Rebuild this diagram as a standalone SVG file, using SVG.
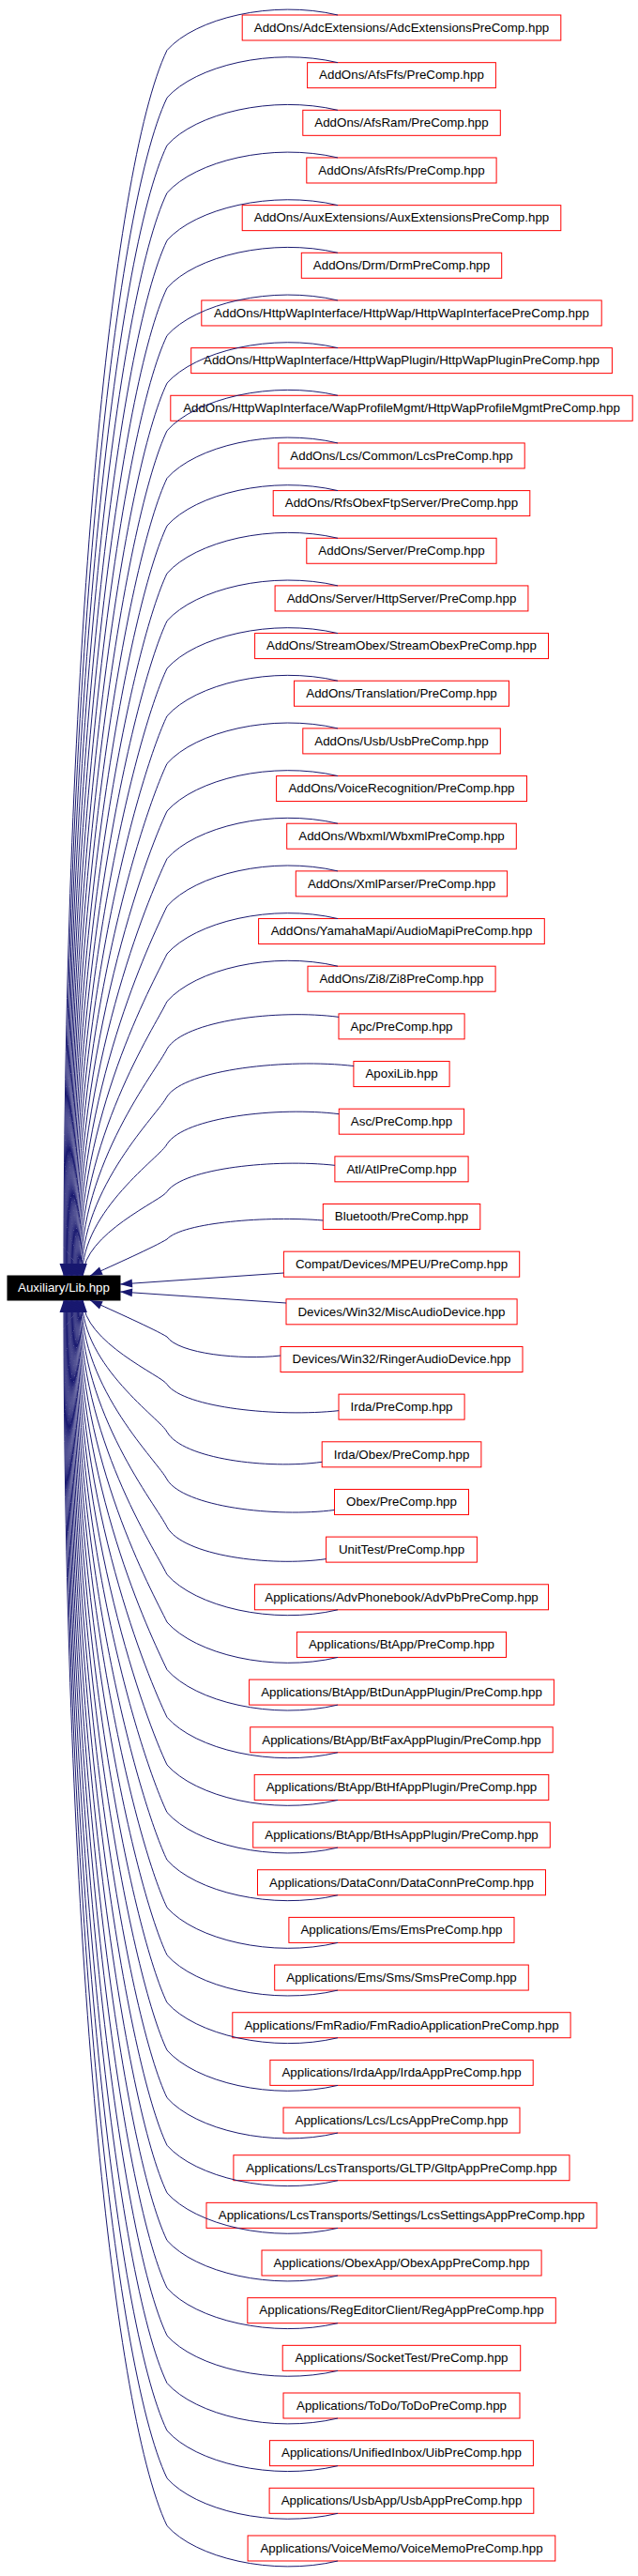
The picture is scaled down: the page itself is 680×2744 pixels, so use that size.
<svg xmlns="http://www.w3.org/2000/svg" width="680" height="2744" viewBox="0 0 680 2744">
<style>
.n rect{fill:#fff;stroke:#f00;stroke-width:1}
.t{font-family:"Liberation Sans",Arial,Helvetica,sans-serif;font-size:13.35px;text-anchor:middle;fill:#000}
.e{fill:none;stroke:#191970;stroke-width:1;marker-end:url(#ah)}
</style>
<defs>
<marker id="ah" markerUnits="userSpaceOnUse" markerWidth="13" markerHeight="9" refX="13" refY="4.5" orient="auto" viewBox="0 0 13 9" overflow="visible"><path d="M0,0 L13,4.5 L0,9 z" fill="#191970"/></marker>
</defs>
<rect width="680" height="2744" fill="#fff"/>
<g id="nodes">
<g id="lib"><rect x="8" y="1359" width="120" height="26" fill="#000" stroke="#000"/><text class="t" x="68" y="1376.3" style="fill:#fff">Auxiliary/Lib.hpp</text></g>
<g id="n0" class="n"><rect x="258.2" y="16" width="339.6" height="27"/><text class="t" x="428" y="33.8">AddOns/AdcExtensions/AdcExtensionsPreComp.hpp</text></g>
<g id="n1" class="n"><rect x="327.6" y="66.66" width="200.8" height="27"/><text class="t" x="428" y="84.46">AddOns/AfsFfs/PreComp.hpp</text></g>
<g id="n2" class="n"><rect x="322.8" y="117.32" width="210.5" height="27"/><text class="t" x="428" y="135.12">AddOns/AfsRam/PreComp.hpp</text></g>
<g id="n3" class="n"><rect x="326.8" y="167.98" width="202.3" height="27"/><text class="t" x="428" y="185.78">AddOns/AfsRfs/PreComp.hpp</text></g>
<g id="n4" class="n"><rect x="258.2" y="218.64" width="339.6" height="27"/><text class="t" x="428" y="236.44">AddOns/AuxExtensions/AuxExtensionsPreComp.hpp</text></g>
<g id="n5" class="n"><rect x="321.3" y="269.3" width="213.4" height="27"/><text class="t" x="428" y="287.1">AddOns/Drm/DrmPreComp.hpp</text></g>
<g id="n6" class="n"><rect x="214.8" y="319.96" width="426.4" height="27"/><text class="t" x="428" y="337.76">AddOns/HttpWapInterface/HttpWap/HttpWapInterfacePreComp.hpp</text></g>
<g id="n7" class="n"><rect x="203.7" y="370.62" width="448.7" height="27"/><text class="t" x="428" y="388.42">AddOns/HttpWapInterface/HttpWapPlugin/HttpWapPluginPreComp.hpp</text></g>
<g id="n8" class="n"><rect x="181.8" y="421.28" width="492.4" height="27"/><text class="t" x="428" y="439.08">AddOns/HttpWapInterface/WapProfileMgmt/HttpWapProfileMgmtPreComp.hpp</text></g>
<g id="n9" class="n"><rect x="296.8" y="471.94" width="262.4" height="27"/><text class="t" x="428" y="489.74">AddOns/Lcs/Common/LcsPreComp.hpp</text></g>
<g id="n10" class="n"><rect x="291.2" y="522.6" width="273.6" height="27"/><text class="t" x="428" y="540.4">AddOns/RfsObexFtpServer/PreComp.hpp</text></g>
<g id="n11" class="n"><rect x="326.8" y="573.26" width="202.3" height="27"/><text class="t" x="428" y="591.06">AddOns/Server/PreComp.hpp</text></g>
<g id="n12" class="n"><rect x="293.1" y="623.92" width="269.8" height="27"/><text class="t" x="428" y="641.72">AddOns/Server/HttpServer/PreComp.hpp</text></g>
<g id="n13" class="n"><rect x="271.6" y="674.58" width="312.9" height="27"/><text class="t" x="428" y="692.38">AddOns/StreamObex/StreamObexPreComp.hpp</text></g>
<g id="n14" class="n"><rect x="313.5" y="725.24" width="229" height="27"/><text class="t" x="428" y="743.04">AddOns/Translation/PreComp.hpp</text></g>
<g id="n15" class="n"><rect x="322.8" y="775.9" width="210.5" height="27"/><text class="t" x="428" y="793.7">AddOns/Usb/UsbPreComp.hpp</text></g>
<g id="n16" class="n"><rect x="294.6" y="826.56" width="266.9" height="27"/><text class="t" x="428" y="844.36">AddOns/VoiceRecognition/PreComp.hpp</text></g>
<g id="n17" class="n"><rect x="305.7" y="877.22" width="244.6" height="27"/><text class="t" x="428" y="895.02">AddOns/Wbxml/WbxmlPreComp.hpp</text></g>
<g id="n18" class="n"><rect x="315.3" y="927.88" width="225.3" height="27"/><text class="t" x="428" y="945.68">AddOns/XmlParser/PreComp.hpp</text></g>
<g id="n19" class="n"><rect x="275.6" y="978.54" width="304.7" height="27"/><text class="t" x="428" y="996.34">AddOns/YamahaMapi/AudioMapiPreComp.hpp</text></g>
<g id="n20" class="n"><rect x="328" y="1029.2" width="200.1" height="27"/><text class="t" x="428" y="1047">AddOns/Zi8/Zi8PreComp.hpp</text></g>
<g id="n21" class="n"><rect x="361" y="1079.86" width="134.1" height="27"/><text class="t" x="428" y="1097.66">Apc/PreComp.hpp</text></g>
<g id="n22" class="n"><rect x="376.9" y="1130.52" width="102.2" height="27"/><text class="t" x="428" y="1148.32">ApoxiLib.hpp</text></g>
<g id="n23" class="n"><rect x="361.3" y="1181.18" width="133.3" height="27"/><text class="t" x="428" y="1198.98">Asc/PreComp.hpp</text></g>
<g id="n24" class="n"><rect x="356.9" y="1231.84" width="142.2" height="27"/><text class="t" x="428" y="1249.64">Atl/AtlPreComp.hpp</text></g>
<g id="n25" class="n"><rect x="344.3" y="1282.5" width="167.5" height="27"/><text class="t" x="428" y="1300.3">Bluetooth/PreComp.hpp</text></g>
<g id="n26" class="n"><rect x="302.4" y="1333.16" width="251.3" height="27"/><text class="t" x="428" y="1350.96">Compat/Devices/MPEU/PreComp.hpp</text></g>
<g id="n27" class="n"><rect x="305" y="1383.82" width="246.1" height="27"/><text class="t" x="428" y="1401.62">Devices/Win32/MiscAudioDevice.hpp</text></g>
<g id="n28" class="n"><rect x="299" y="1434.48" width="258" height="27"/><text class="t" x="428" y="1452.28">Devices/Win32/RingerAudioDevice.hpp</text></g>
<g id="n29" class="n"><rect x="361" y="1485.14" width="134.1" height="27"/><text class="t" x="428" y="1502.94">Irda/PreComp.hpp</text></g>
<g id="n30" class="n"><rect x="343.2" y="1535.8" width="169.7" height="27"/><text class="t" x="428" y="1553.6">Irda/Obex/PreComp.hpp</text></g>
<g id="n31" class="n"><rect x="356.5" y="1586.46" width="143" height="27"/><text class="t" x="428" y="1604.26">Obex/PreComp.hpp</text></g>
<g id="n32" class="n"><rect x="347.6" y="1637.12" width="160.8" height="27"/><text class="t" x="428" y="1654.92">UnitTest/PreComp.hpp</text></g>
<g id="n33" class="n"><rect x="271.4" y="1687.78" width="313.1" height="27"/><text class="t" x="428" y="1705.58">Applications/AdvPhonebook/AdvPbPreComp.hpp</text></g>
<g id="n34" class="n"><rect x="316.4" y="1738.44" width="223.1" height="27"/><text class="t" x="428" y="1756.24">Applications/BtApp/PreComp.hpp</text></g>
<g id="n35" class="n"><rect x="265.6" y="1789.1" width="324.8" height="27"/><text class="t" x="428" y="1806.9">Applications/BtApp/BtDunAppPlugin/PreComp.hpp</text></g>
<g id="n36" class="n"><rect x="266.7" y="1839.76" width="322.5" height="27"/><text class="t" x="428" y="1857.56">Applications/BtApp/BtFaxAppPlugin/PreComp.hpp</text></g>
<g id="n37" class="n"><rect x="271.2" y="1890.42" width="313.6" height="27"/><text class="t" x="428" y="1908.22">Applications/BtApp/BtHfAppPlugin/PreComp.hpp</text></g>
<g id="n38" class="n"><rect x="269.7" y="1941.08" width="316.6" height="27"/><text class="t" x="428" y="1958.88">Applications/BtApp/BtHsAppPlugin/PreComp.hpp</text></g>
<g id="n39" class="n"><rect x="274.5" y="1991.74" width="307" height="27"/><text class="t" x="428" y="2009.54">Applications/DataConn/DataConnPreComp.hpp</text></g>
<g id="n40" class="n"><rect x="307.9" y="2042.4" width="240.1" height="27"/><text class="t" x="428" y="2060.2">Applications/Ems/EmsPreComp.hpp</text></g>
<g id="n41" class="n"><rect x="292.7" y="2093.06" width="270.6" height="27"/><text class="t" x="428" y="2110.86">Applications/Ems/Sms/SmsPreComp.hpp</text></g>
<g id="n42" class="n"><rect x="247.8" y="2143.72" width="360.3" height="27"/><text class="t" x="428" y="2161.52">Applications/FmRadio/FmRadioApplicationPreComp.hpp</text></g>
<g id="n43" class="n"><rect x="287.9" y="2194.38" width="280.3" height="27"/><text class="t" x="428" y="2212.18">Applications/IrdaApp/IrdaAppPreComp.hpp</text></g>
<g id="n44" class="n"><rect x="302" y="2245.04" width="252" height="27"/><text class="t" x="428" y="2262.84">Applications/Lcs/LcsAppPreComp.hpp</text></g>
<g id="n45" class="n"><rect x="248.9" y="2295.7" width="358.1" height="27"/><text class="t" x="428" y="2313.5">Applications/LcsTransports/GLTP/GltpAppPreComp.hpp</text></g>
<g id="n46" class="n"><rect x="220" y="2346.36" width="416" height="27"/><text class="t" x="428" y="2364.16">Applications/LcsTransports/Settings/LcsSettingsAppPreComp.hpp</text></g>
<g id="n47" class="n"><rect x="279" y="2397.02" width="298.1" height="27"/><text class="t" x="428" y="2414.82">Applications/ObexApp/ObexAppPreComp.hpp</text></g>
<g id="n48" class="n"><rect x="263.8" y="2447.68" width="328.5" height="27"/><text class="t" x="428" y="2465.48">Applications/RegEditorClient/RegAppPreComp.hpp</text></g>
<g id="n49" class="n"><rect x="301.2" y="2498.34" width="253.5" height="27"/><text class="t" x="428" y="2516.14">Applications/SocketTest/PreComp.hpp</text></g>
<g id="n50" class="n"><rect x="302" y="2549" width="252" height="27"/><text class="t" x="428" y="2566.8">Applications/ToDo/ToDoPreComp.hpp</text></g>
<g id="n51" class="n"><rect x="287.5" y="2599.66" width="280.9" height="27"/><text class="t" x="428" y="2617.46">Applications/UnifiedInbox/UibPreComp.hpp</text></g>
<g id="n52" class="n"><rect x="287.1" y="2650.32" width="281.7" height="27"/><text class="t" x="428" y="2668.12">Applications/UsbApp/UsbAppPreComp.hpp</text></g>
<g id="n53" class="n"><rect x="264.1" y="2700.98" width="327.7" height="27"/><text class="t" x="428" y="2718.78">Applications/VoiceMemo/VoiceMemoPreComp.hpp</text></g>
</g>
<g id="edges">
<path class="e" d="M360,16 C290,-0.5 208,19.5 178,53.5 C117.9,178.8 68,706.3 68,1359"/>
<path class="e" d="M360,66.66 C290,50.16 208,70.16 178,104.16 C120.3,224.6 68.85,731.6 68.85,1359"/>
<path class="e" d="M360,117.32 C290,100.82 208,120.82 178,154.82 C122.6,270.4 69.7,756.9 69.7,1359"/>
<path class="e" d="M360,167.98 C290,151.48 208,171.48 178,205.48 C124.9,316.2 70.55,782.3 70.55,1359"/>
<path class="e" d="M360,218.64 C290,202.14 208,222.14 178,256.14 C127.3,362 71.4,807.6 71.4,1359"/>
<path class="e" d="M360,269.3 C290,252.8 208,272.8 178,306.8 C129.6,407.8 72.25,832.9 72.25,1359"/>
<path class="e" d="M360,319.96 C290,303.46 208,323.46 178,357.46 C131.9,453.6 73.1,858.2 73.1,1359"/>
<path class="e" d="M360,370.62 C290,354.12 208,374.12 178,408.12 C134.3,499.4 73.95,883.6 73.95,1359"/>
<path class="e" d="M360,421.28 C290,404.78 208,424.78 178,458.78 C136.6,545.2 74.8,908.9 74.8,1359"/>
<path class="e" d="M360,471.94 C290,455.44 208,475.44 178,509.44 C138.9,591 75.65,934.2 75.65,1359"/>
<path class="e" d="M360,522.6 C290,506.1 208,526.1 178,560.1 C141.3,636.8 76.5,959.6 76.5,1359"/>
<path class="e" d="M360,573.26 C290,556.76 208,576.76 178,610.76 C143.6,682.6 77.35,984.9 77.35,1359"/>
<path class="e" d="M360,623.92 C290,607.42 208,627.42 178,661.42 C145.9,728.4 78.2,1010.2 78.2,1359"/>
<path class="e" d="M360,674.58 C290,658.08 208,678.08 178,712.08 C148.2,774.2 79.05,1035.6 79.05,1359"/>
<path class="e" d="M360,725.24 C290,708.74 208,728.74 178,762.74 C150.6,819.9 79.9,1060.8 79.9,1359"/>
<path class="e" d="M360,775.9 C290,759.4 208,779.4 178,813.4 C152.9,865.8 80.75,1086.2 80.75,1359"/>
<path class="e" d="M360,826.56 C290,810.06 208,830.06 178,864.06 C155.2,911.6 81.6,1111.6 81.6,1359"/>
<path class="e" d="M360,877.22 C290,860.72 208,880.72 178,914.72 C157.6,957.4 82.45,1136.8 82.45,1359"/>
<path class="e" d="M360,927.88 C290,911.38 208,931.38 178,965.38 C159.9,1003.2 83.3,1162.2 83.3,1359"/>
<path class="e" d="M360,978.54 C290,962.04 208,982.04 178,1016.04 C162.2,1048.9 84.15,1187.5 84.15,1359"/>
<path class="e" d="M360,1029.2 C290,1012.7 208,1032.7 178,1066.7 C164.6,1094.8 85,1212.9 85,1359"/>
<path class="e" d="M361,1083.36 C296.95,1074.86 196.3,1086.76 178,1117.36 C166.9,1140.6 85.85,1238.2 85.85,1359"/>
<path class="e" d="M376.9,1135.52 C307.3,1127.4 197.9,1138.77 178,1168.02 C169.2,1186.3 86.7,1263.5 86.7,1359"/>
<path class="e" d="M361.3,1186.68 C297.1,1178.68 196.3,1189.88 178,1218.68 C171.5,1232.2 87.55,1288.8 87.55,1359"/>
<path class="e" d="M356.9,1241.34 C294.3,1234.34 195.9,1244.14 178,1269.34 C173.9,1277.9 88.4,1314.2 88.4,1359"/>
<path class="e" d="M344.3,1300 C286.1,1295 194.6,1302 178,1320 C165,1328 120,1348 96,1359"/>
<path class="e" d="M302.4,1356 L128,1368"/>
<path class="e" d="M305,1388 L128,1376"/>
<g transform="matrix(1 0 0 -1 0 2744)">
<path class="e" d="M299,1300 C256.65,1295 190.1,1302 178,1320 C165,1328 120,1348 96,1359"/>
<path class="e" d="M361,1241.34 C296.95,1234.34 196.3,1244.14 178,1269.34 C173.9,1277.9 88.4,1314.2 88.4,1359"/>
<path class="e" d="M343.2,1186.68 C285.4,1178.68 194.5,1189.88 178,1218.68 C171.5,1232.2 87.55,1288.8 87.55,1359"/>
<path class="e" d="M356.5,1135.52 C294,1127.4 195.9,1138.77 178,1168.02 C169.2,1186.3 86.7,1263.5 86.7,1359"/>
<path class="e" d="M347.6,1083.36 C288.2,1074.86 195,1086.76 178,1117.36 C166.9,1140.6 85.85,1238.2 85.85,1359"/>
<path class="e" d="M360,1029.2 C290,1012.7 208,1032.7 178,1066.7 C164.6,1094.8 85,1212.9 85,1359"/>
<path class="e" d="M360,978.54 C290,962.04 208,982.04 178,1016.04 C162.2,1048.9 84.15,1187.5 84.15,1359"/>
<path class="e" d="M360,927.88 C290,911.38 208,931.38 178,965.38 C159.9,1003.2 83.3,1162.2 83.3,1359"/>
<path class="e" d="M360,877.22 C290,860.72 208,880.72 178,914.72 C157.6,957.4 82.45,1136.8 82.45,1359"/>
<path class="e" d="M360,826.56 C290,810.06 208,830.06 178,864.06 C155.2,911.6 81.6,1111.6 81.6,1359"/>
<path class="e" d="M360,775.9 C290,759.4 208,779.4 178,813.4 C152.9,865.8 80.75,1086.2 80.75,1359"/>
<path class="e" d="M360,725.24 C290,708.74 208,728.74 178,762.74 C150.6,819.9 79.9,1060.8 79.9,1359"/>
<path class="e" d="M360,674.58 C290,658.08 208,678.08 178,712.08 C148.2,774.2 79.05,1035.6 79.05,1359"/>
<path class="e" d="M360,623.92 C290,607.42 208,627.42 178,661.42 C145.9,728.4 78.2,1010.2 78.2,1359"/>
<path class="e" d="M360,573.26 C290,556.76 208,576.76 178,610.76 C143.6,682.6 77.35,984.9 77.35,1359"/>
<path class="e" d="M360,522.6 C290,506.1 208,526.1 178,560.1 C141.3,636.8 76.5,959.6 76.5,1359"/>
<path class="e" d="M360,471.94 C290,455.44 208,475.44 178,509.44 C138.9,591 75.65,934.2 75.65,1359"/>
<path class="e" d="M360,421.28 C290,404.78 208,424.78 178,458.78 C136.6,545.2 74.8,908.9 74.8,1359"/>
<path class="e" d="M360,370.62 C290,354.12 208,374.12 178,408.12 C134.3,499.4 73.95,883.6 73.95,1359"/>
<path class="e" d="M360,319.96 C290,303.46 208,323.46 178,357.46 C131.9,453.6 73.1,858.2 73.1,1359"/>
<path class="e" d="M360,269.3 C290,252.8 208,272.8 178,306.8 C129.6,407.8 72.25,832.9 72.25,1359"/>
<path class="e" d="M360,218.64 C290,202.14 208,222.14 178,256.14 C127.3,362 71.4,807.6 71.4,1359"/>
<path class="e" d="M360,167.98 C290,151.48 208,171.48 178,205.48 C124.9,316.2 70.55,782.3 70.55,1359"/>
<path class="e" d="M360,117.32 C290,100.82 208,120.82 178,154.82 C122.6,270.4 69.7,756.9 69.7,1359"/>
<path class="e" d="M360,66.66 C290,50.16 208,70.16 178,104.16 C120.3,224.6 68.85,731.6 68.85,1359"/>
<path class="e" d="M360,16 C290,-0.5 208,19.5 178,53.5 C117.9,178.8 68,706.3 68,1359"/>
</g>
</g>
</svg>
